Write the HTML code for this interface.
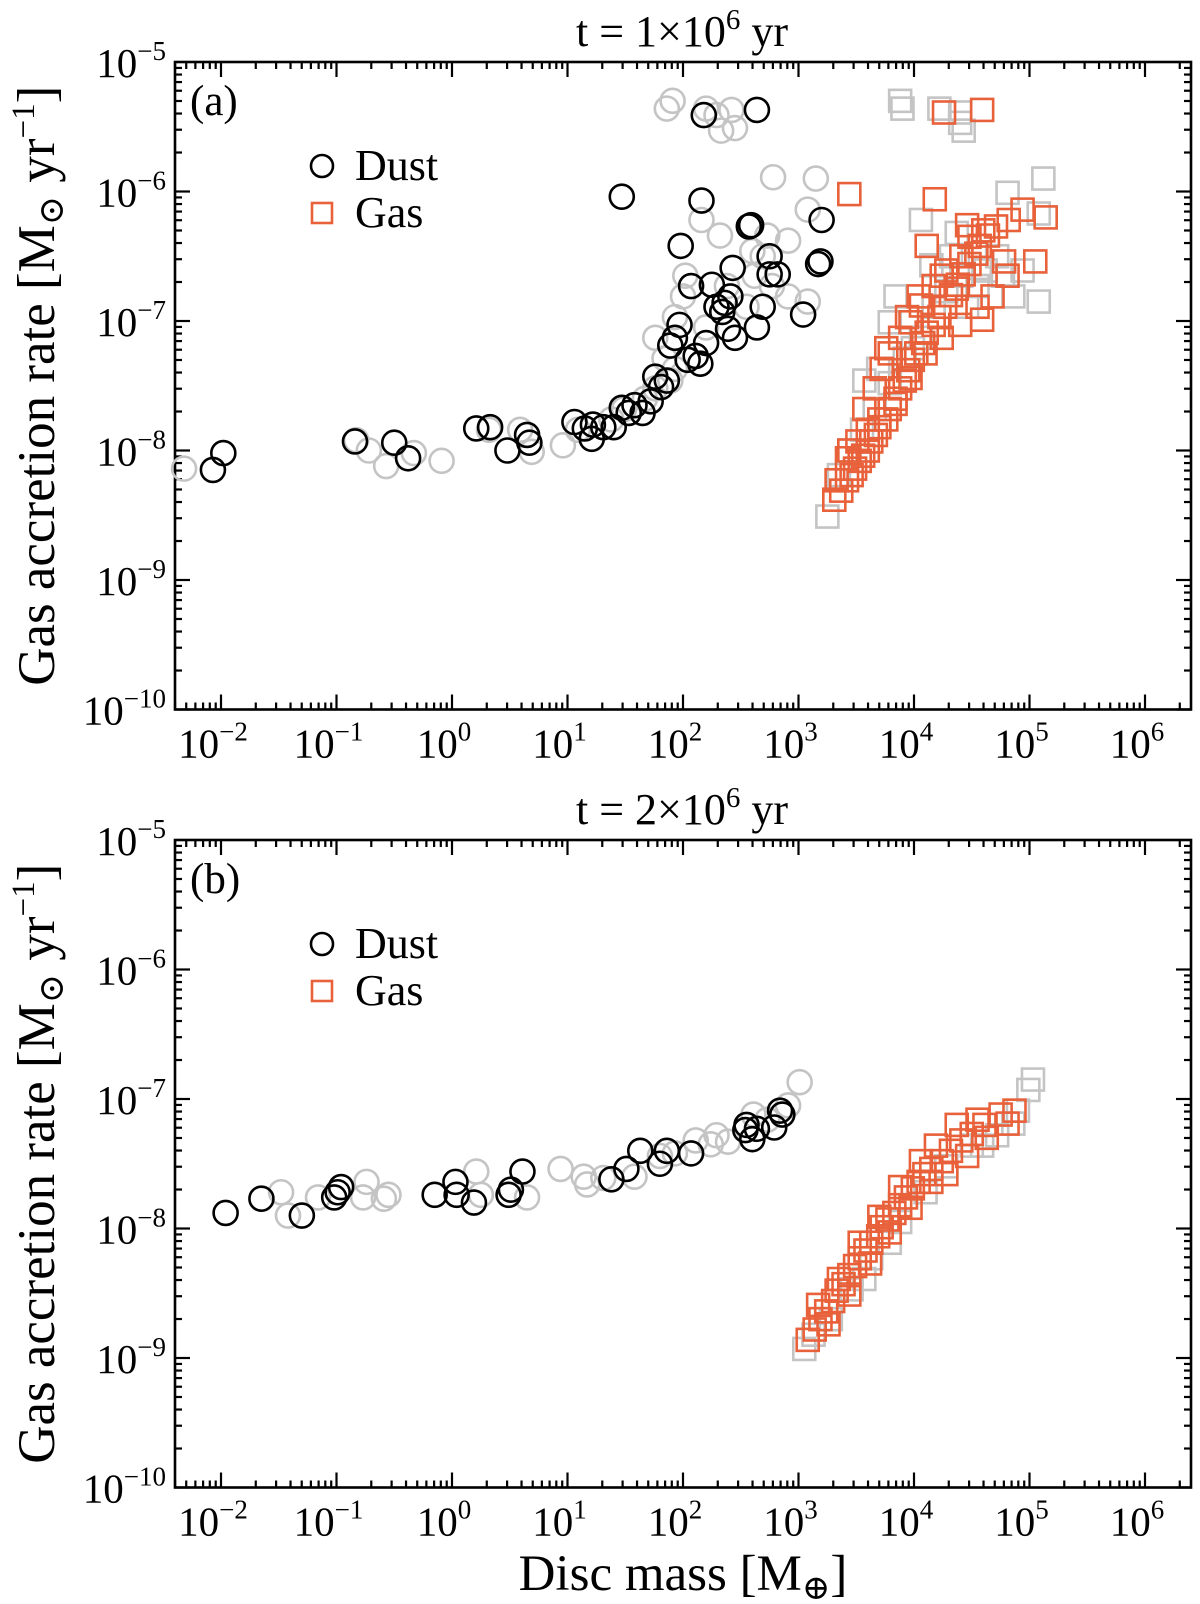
<!DOCTYPE html>
<html><head><meta charset="utf-8">
<style>
html,body{margin:0;padding:0;background:#fff;}
svg{display:block;font-family:"Liberation Serif","DejaVu Serif",serif;}
</style></head>
<body>
<svg id="chart" width="1200" height="1604" viewBox="0 0 1200 1604" xmlns="http://www.w3.org/2000/svg"></svg>
<script>
// ---------- DATA (log10 values) ----------
const xTickExps = [-2,-1,0,1,2,3,4,5,6];
const yTickExps = [-5,-6,-7,-8,-9,-10];
const panelTitles = ["t = 1\u00d710", "t = 2\u00d710"];
const panelTitleExps = ["6","6"];
const panelLabels = ["(a)","(b)"];

// Panel (a)
const aDustM = [-2.07,-1.98,-0.84,-0.50,-0.38,0.21,0.33,0.48,0.65,0.67,1.06,1.15,1.21,1.22,1.31,1.40,1.47,1.53,1.58,1.65,1.72,1.76,1.81,1.86,1.89,1.93,1.97,2.04,2.11,2.15,2.20,2.29,2.36,2.39,2.45,2.07,2.25,2.34,2.41,2.43,2.64,2.69,2.75,2.82,2.75,3.04,3.17,1.47,1.98,2.16,2.18,2.64,2.59,2.57,3.20,3.19];
const aDustR = [-8.15,-8.02,-7.93,-7.94,-8.06,-7.83,-7.82,-8.00,-7.88,-7.94,-7.78,-7.83,-7.91,-7.80,-7.82,-7.82,-7.67,-7.71,-7.65,-7.71,-7.62,-7.43,-7.51,-7.46,-7.19,-7.13,-7.03,-7.30,-7.27,-7.33,-7.17,-6.89,-6.86,-7.06,-7.13,-6.73,-6.72,-6.93,-6.81,-6.59,-7.05,-6.89,-6.64,-6.64,-6.50,-6.95,-6.56,-6.04,-6.42,-6.07,-5.41,-5.37,-6.26,-6.27,-6.22,-6.54];
const aDustGreyM = [-2.32,-0.83,-0.72,-0.57,-0.33,-0.09,0.32,0.59,0.69,0.96,1.09,1.38,1.49,1.67,1.76,1.89,1.93,1.84,1.76,1.93,2.00,2.02,2.20,2.29,2.38,2.55,2.62,2.69,2.77,2.91,3.08,2.73,2.91,1.91,1.86,2.20,2.29,2.42,2.33,2.45,2.78,3.15,2.60,2.16,2.32,3.08];
const aDustGreyR = [-8.14,-7.92,-8.00,-8.12,-8.02,-8.08,-7.84,-7.84,-8.01,-7.96,-7.84,-7.76,-7.68,-7.60,-7.52,-7.46,-7.37,-7.29,-7.13,-6.97,-6.81,-6.65,-7.05,-6.89,-6.73,-6.89,-6.65,-6.50,-6.73,-6.81,-6.85,-6.34,-6.38,-5.30,-5.36,-5.36,-5.41,-5.37,-5.53,-5.51,-5.89,-5.90,-6.46,-6.22,-6.34,-6.14];
const aGasM = [3.31,3.37,3.42,3.46,3.49,3.53,3.56,3.60,3.63,3.67,3.70,3.76,3.79,3.84,3.88,3.92,3.95,3.99,4.02,4.08,4.11,4.17,4.22,4.27,4.32,4.38,4.43,4.48,4.54,4.57,4.64,4.71,4.82,4.94,5.14,3.44,3.57,3.66,3.72,3.79,3.88,3.97,4.06,4.17,4.28,4.41,4.48,4.60,4.81,4.68,4.55,4.40,4.24,4.10,3.97,3.84,3.70,3.60,3.51,3.42,3.33,3.76,3.94,4.04,4.24,4.37,4.59,4.78,5.05,3.44,4.11,4.18,4.26,4.59,4.46];
const aGasR = [-8.38,-8.31,-8.23,-8.19,-8.14,-8.08,-8.04,-8.00,-7.93,-7.88,-7.82,-7.76,-7.68,-7.60,-7.52,-7.46,-7.38,-7.30,-7.25,-7.17,-7.09,-7.03,-6.97,-6.89,-6.80,-6.72,-6.64,-6.56,-6.48,-6.42,-6.34,-6.27,-6.22,-6.14,-6.20,-8.00,-7.68,-7.52,-7.37,-7.25,-7.13,-7.01,-6.88,-6.73,-6.61,-6.50,-6.35,-6.30,-6.65,-6.81,-6.89,-7.03,-7.13,-7.25,-7.44,-7.64,-7.76,-7.84,-7.93,-8.06,-8.23,-7.21,-6.97,-6.81,-6.65,-6.75,-6.99,-6.54,-6.54,-6.02,-6.42,-6.06,-5.39,-5.37,-6.26];
const aGasGreyM = [3.25,3.35,3.44,3.55,3.66,3.79,3.92,4.06,4.17,4.28,4.41,4.57,4.72,4.86,5.08,4.77,3.79,3.69,3.57,4.06,4.37,4.15,4.46,4.55,4.62,4.94,4.81,5.12,5.08,3.88,3.90,4.22,4.40,4.43,4.40,4.32,3.99,3.84];
const aGasGreyR = [-8.51,-8.19,-8.00,-7.84,-7.68,-7.48,-7.29,-7.13,-6.89,-6.77,-6.65,-6.59,-6.50,-6.81,-6.85,-6.65,-7.01,-7.37,-7.46,-6.22,-6.32,-6.57,-6.89,-6.73,-6.61,-6.61,-6.01,-5.90,-6.17,-5.30,-5.36,-5.36,-5.39,-5.53,-5.47,-6.50,-7.21,-6.81];

// Panel (b)
const bDustM = [-1.96,-1.65,-1.30,-1.02,-0.99,-0.96,-0.15,0.03,0.04,0.19,0.49,0.51,0.61,1.38,1.51,1.63,1.80,1.86,2.07,2.54,2.55,2.60,2.64,2.79,2.84,2.86];
const bDustR = [-7.88,-7.77,-7.90,-7.76,-7.72,-7.68,-7.74,-7.64,-7.74,-7.80,-7.74,-7.70,-7.56,-7.62,-7.54,-7.40,-7.50,-7.40,-7.42,-7.24,-7.20,-7.31,-7.23,-7.22,-7.09,-7.12];
const bDustGreyM = [-1.48,-1.42,-1.16,-0.77,-0.74,-0.59,-0.55,0.21,0.25,0.65,0.94,1.14,1.17,1.31,1.58,1.80,1.93,2.11,2.24,2.39,2.61,2.73,2.91,3.01,2.29];
const bDustGreyR = [-7.72,-7.90,-7.76,-7.76,-7.64,-7.77,-7.74,-7.56,-7.74,-7.76,-7.54,-7.60,-7.66,-7.61,-7.60,-7.44,-7.42,-7.32,-7.35,-7.33,-7.12,-7.16,-7.05,-6.87,-7.28];
const bGasM = [3.08,3.14,3.19,3.24,3.30,3.33,3.39,3.44,3.49,3.53,3.58,3.63,3.69,3.72,3.77,3.83,3.88,3.93,3.99,4.04,4.09,4.15,4.24,4.32,4.41,4.50,4.61,4.75,4.87,3.17,3.35,3.53,3.70,3.88,4.06,4.19,4.37,4.55,3.26,3.44,3.62,3.79,3.97,4.15,4.28,4.46,4.63,4.81];
const bGasR = [-8.86,-8.78,-8.70,-8.64,-8.56,-8.48,-8.43,-8.36,-8.29,-8.23,-8.17,-8.11,-8.06,-7.99,-7.93,-7.88,-7.82,-7.76,-7.69,-7.64,-7.58,-7.54,-7.48,-7.40,-7.32,-7.27,-7.20,-7.12,-7.09,-8.59,-8.39,-8.11,-7.91,-7.68,-7.48,-7.36,-7.20,-7.16,-8.74,-8.51,-8.27,-8.03,-7.84,-7.64,-7.58,-7.44,-7.30,-7.19];
const bGasGreyM = [3.05,3.13,3.28,3.46,3.63,3.88,4.10,4.28,4.50,4.72,4.99,5.03,4.90,4.59,4.86,3.79,3.57];
const bGasGreyR = [-8.93,-8.82,-8.70,-8.47,-8.23,-7.95,-7.72,-7.52,-7.36,-7.28,-6.93,-6.85,-7.09,-7.36,-7.19,-8.11,-8.39];

// ---------- LAYOUT ----------
const NS = "http://www.w3.org/2000/svg";
const svg = document.getElementById("chart");
const L = 175, R = 1191;
const X0 = 221, XDEC = 115.5;
const panels = [{top:62}, {top:840}];
const YDEC = 129.5;
const GREY = "#c4c4c4", ORANGE = "#e8613a";

function el(tag, attrs, parent){
  const e = document.createElementNS(NS, tag);
  for (const k in attrs) e.setAttribute(k, attrs[k]);
  (parent||svg).appendChild(e);
  return e;
}
function xPos(lm){ return X0 + (lm + 2) * XDEC; }
function yPos(lr, top){ return top + (-5 - lr) * YDEC; }

function drawPanel(p, idx){
  const top = p.top, bot = top + 5*YDEC;
  const g = el("g", {});
  
  

  const t = el("text", {x: 682, y: top - 16, "text-anchor":"middle", "font-size":44}, g);
  
  
  t.appendChild(document.createTextNode(panelTitles[idx]));
  const ts = el("tspan", {dy:-17, "font-size":29}, t);
  ts.textContent = panelTitleExps[idx];
  const ts2 = el("tspan", {dy:17, "font-size":44}, t);
  ts2.textContent = " yr";

  const tk = el("g", {stroke:"#000", "stroke-width":2.2}, g);
  
  
  for (let d = -3; d <= 6; d++){
    for (let k = 1; k <= 9; k++){
      const x = xPos(d + Math.log10(k));
      if (x < L || x > R) continue;
      const len = k===1 ? 15 : 7;
      el("line", {x1:x, x2:x, y1:bot, y2:bot-len}, tk);
      el("line", {x1:x, x2:x, y1:top, y2:top+len}, tk);
    }
  }
  for (let d = -10; d < -5; d++){
    for (let k = 1; k <= 9; k++){
      const y = yPos(d + Math.log10(k), top);
      const len = k===1 ? 15 : 7;
      el("line", {x1:L, x2:L+len, y1:y, y2:y}, tk);
      el("line", {x1:R, x2:R-len, y1:y, y2:y}, tk);
    }
  }

  const fr = el("rect", {x:L, y:top, width:R-L, height:bot-top, fill:"none", stroke:"#000", "stroke-width":2.6}, g);
  
  

  xTickExps.forEach(e => {
    const tx = el("text", {x: xPos(e) - 8, y: bot + 48, "text-anchor":"middle", "font-size":41}, g);
    
    
    tx.appendChild(document.createTextNode("10"));
    const s = el("tspan", {dy:-17, "font-size":27}, tx);
    s.textContent = e < 0 ? "\u2212" + (-e) : String(e);
  });
  yTickExps.forEach(e => {
    const ty = el("text", {x: 166, y: yPos(e, top) + 15, "text-anchor":"end", "font-size":41}, g);
    
    
    ty.appendChild(document.createTextNode("10"));
    const s = el("tspan", {dy:-17, "font-size":27}, ty);
    s.textContent = "\u2212" + (-e);
  });

  const cy = (top + bot)/2;
  const yt = el("text", {x:0, y:0, "text-anchor":"middle", "font-size":53, transform:`translate(54,${cy}) rotate(-90)`}, g);
  
  
  yt.appendChild(document.createTextNode("Gas accretion rate [M"));
  const sub = el("tspan", {dy:9, "font-size":35}, yt); sub.textContent = "\u2299";
  const mid = el("tspan", {dy:-9, "font-size":53}, yt); mid.textContent = " yr";
  const sup = el("tspan", {dy:-20, "font-size":33}, yt); sup.textContent = "\u22121";
  const end = el("tspan", {dy:20, "font-size":53}, yt); end.textContent = "]";

  const pl = el("text", {x:190, y:top+53, "font-size":43}, g);
  
  
  pl.textContent = panelLabels[idx];

  const lg = el("g", {}, g);
  
  
  const c = el("circle", {cx:322, cy:top+104, r:11, fill:"none", stroke:"#000", "stroke-width":2.6}, lg);
  
  
  const lt1 = el("text", {x:355, y:top+118, "font-size":44}, lg);
  
  
  lt1.textContent = "Dust";
  const sq = el("rect", {x:312, y:top+141, width:20, height:20, fill:"none", stroke:ORANGE, "stroke-width":2.6}, lg);
  
  
  const lt2 = el("text", {x:355, y:top+165, "font-size":44}, lg);
  
  
  lt2.textContent = "Gas";

  return {g, top};
}

function circles(ms, rs, top, color, name, parent){
  const grp = el("g", {fill:"none", stroke:color, "stroke-width":2.6}, parent);
  
  
  ms.forEach((m,i) => {
    const c = el("circle", {cx:xPos(m), cy:yPos(rs[i], top), r:12}, grp);
    
    
  });
}
function squares(ms, rs, top, color, name, parent){
  const grp = el("g", {fill:"none", stroke:color, "stroke-width":2.6}, parent);
  
  
  ms.forEach((m,i) => {
    const s = el("rect", {x:xPos(m)-11, y:yPos(rs[i], top)-11, width:22, height:22}, grp);
    
    
  });
}

const pa = drawPanel(panels[0], 0);
circles(aDustGreyM, aDustGreyR, pa.top, GREY, "dust-grey-series", pa.g);
squares(aGasGreyM, aGasGreyR, pa.top, GREY, "gas-grey-series", pa.g);
circles(aDustM, aDustR, pa.top, "#000", "dust-series", pa.g);
squares(aGasM, aGasR, pa.top, ORANGE, "gas-series", pa.g);

const pb = drawPanel(panels[1], 1);
circles(bDustGreyM, bDustGreyR, pb.top, GREY, "dust-grey-series", pb.g);
squares(bGasGreyM, bGasGreyR, pb.top, GREY, "gas-grey-series", pb.g);
circles(bDustM, bDustR, pb.top, "#000", "dust-series", pb.g);
squares(bGasM, bGasR, pb.top, ORANGE, "gas-series", pb.g);

const xt = el("text", {x:683, y:1590, "text-anchor":"middle", "font-size":51});


xt.appendChild(document.createTextNode("Disc mass [M"));
const xs = el("tspan", {dy:9, "font-size":34}, xt); xs.textContent = "\u2295";
const xe = el("tspan", {dy:-9, "font-size":51}, xt); xe.textContent = "]";
</script>
</body></html>
